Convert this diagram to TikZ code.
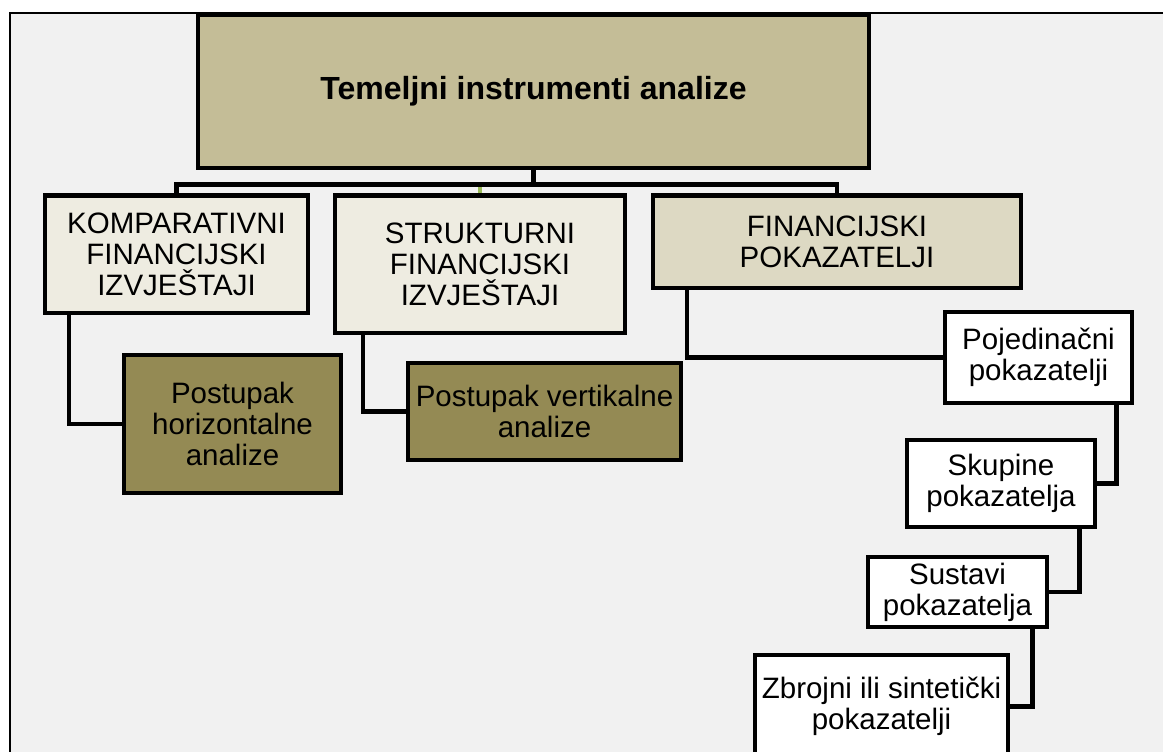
\documentclass[tikz,border=0pt]{standalone}
\usepackage{fontspec}
\setmainfont{Liberation Sans}
\usetikzlibrary{positioning,calc}

\begin{document}
\begin{tikzpicture}[
    x=1pt, y=-1pt,
    block/.style={
        rectangle,
        draw=black,
        line width=4.5pt,
        align=center,
        inner sep=2pt,
        font=\fontsize{29.5}{31}\selectfont
    },
    link/.style={
        draw=black,
        line width=4.5pt
    },
    twig/.style={
        draw=leafgreen,
        line width=3.5pt
    }
]
% Color definitions
\definecolor{pagegray}{RGB}{241,241,241}
\definecolor{rootkhaki}{RGB}{196,189,151}
\definecolor{palecream}{RGB}{238,236,225}
\definecolor{sandbeige}{RGB}{221,217,195}
\definecolor{olivebrown}{RGB}{148,138,84}
\definecolor{leafgreen}{RGB}{155,187,89}

% Page
\clip (0,0) rectangle (1163,752);
\fill[pagegray] (10,13) rectangle (1163,752);
\draw[line width=2pt] (10,752) -- (10,13) -- (1163,13);

% Nodes
\node[block, fill=rootkhaki, minimum width=671pt, minimum height=153pt,
      font=\bfseries\fontsize{32}{34}\selectfont] (root) at (533.5,91.5) {Temeljni instrumenti analize};
\coordinate (bus) at (0,184.5);

\node[block, fill=palecream, minimum width=263pt, minimum height=117.5pt] (komp) at (176.5,254.25) {KOMPARATIVNI\\FINANCIJSKI\\IZVJEŠTAJI};
\node[block, fill=palecream, minimum width=290pt, minimum height=137.5pt] (struk) at (480,264.25) {STRUKTURNI\\FINANCIJSKI\\IZVJEŠTAJI};
\node[block, fill=sandbeige, minimum width=368pt, minimum height=92.5pt] (fin) at (837,241.75) {FINANCIJSKI\\POKAZATELJI};

\node[block, fill=olivebrown, minimum width=217pt, minimum height=138pt] (horiz) at (232.5,424) {Postupak\\horizontalne\\analize};
\node[block, fill=olivebrown, minimum width=273pt, minimum height=97pt] (vert) at (544.5,411.5) {Postupak vertikalne\\analize};

\node[block, fill=white, minimum width=187pt, minimum height=91pt] (poj) at (1038.5,357.5) {Pojedinačni\\pokazatelji};
\node[block, fill=white, minimum width=188pt, minimum height=87pt] (skup) at (1001,483.5) {Skupine\\pokazatelja};
\node[block, fill=white, minimum width=179pt, minimum height=70pt] (sust) at (957.5,592) {Sustavi\\pokazatelja};
\node[block, fill=white, minimum width=253pt, minimum height=103pt] (zbr) at (881.5,706.5) {Zbrojni ili sintetički\\pokazatelji};

% Arrows
\draw[twig] (struk.north |- bus) -- (struk.north);
\draw[link] (root.south) -- (root.south |- bus) -| (komp.north);
\draw[link] (root.south |- bus) -| (fin.north);

\draw[link] ([xshift=26pt]komp.south west) |- (horiz.west);
\draw[link] ([xshift=30pt]struk.south west) |- (vert.west);
\draw[link] ([xshift=36pt]fin.south west) |- (poj.west);

\draw[link] ([xshift=-18pt]poj.south east) |- (skup.east);
\draw[link] ([xshift=-18pt]skup.south east) |- (sust.east);
\draw[link] ([xshift=-17pt]sust.south east) |- (zbr.east);

\end{tikzpicture}
\end{document}
